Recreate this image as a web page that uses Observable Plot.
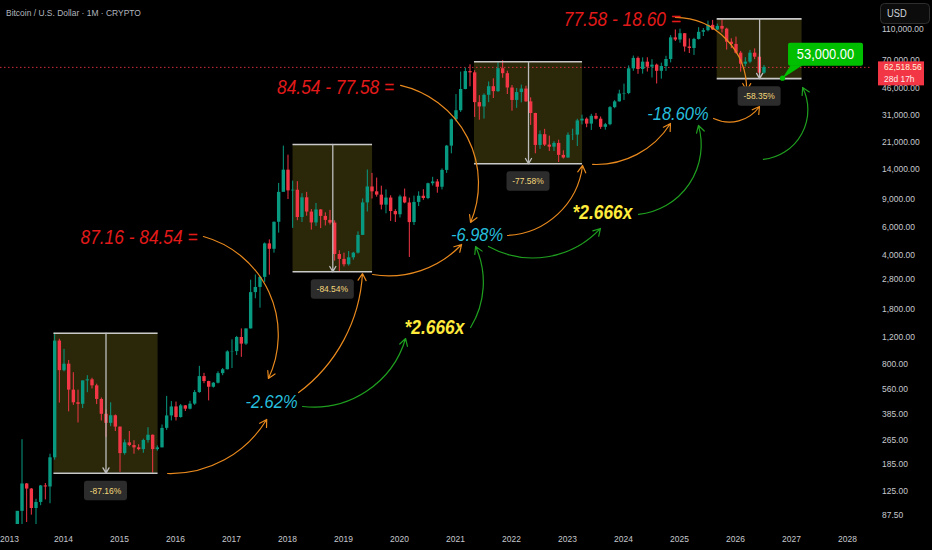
<!DOCTYPE html>
<html><head><meta charset="utf-8">
<script src="https://cdn.jsdelivr.net/npm/d3@7"></script>
<script src="https://cdn.jsdelivr.net/npm/@observablehq/plot@0.6"></script>
<style>
html,body{margin:0;padding:0;background:#000;overflow:hidden;}
#chart svg{display:block}
</style></head><body><div id="chart"></div>
<script>
// ---------------- DATA ----------------
const months = [
 "2013-03","2013-04","2013-05","2013-06","2013-07","2013-08","2013-09","2013-10","2013-11","2013-12",
 "2014-01","2014-02","2014-03","2014-04","2014-05","2014-06","2014-07","2014-08","2014-09","2014-10","2014-11","2014-12",
 "2015-01","2015-02","2015-03","2015-04","2015-05","2015-06","2015-07","2015-08","2015-09","2015-10","2015-11","2015-12",
 "2016-01","2016-02","2016-03","2016-04","2016-05","2016-06","2016-07","2016-08","2016-09","2016-10","2016-11","2016-12",
 "2017-01","2017-02","2017-03","2017-04","2017-05","2017-06","2017-07","2017-08","2017-09","2017-10","2017-11","2017-12",
 "2018-01","2018-02","2018-03","2018-04","2018-05","2018-06","2018-07","2018-08","2018-09","2018-10","2018-11","2018-12",
 "2019-01","2019-02","2019-03","2019-04","2019-05","2019-06","2019-07","2019-08","2019-09","2019-10","2019-11","2019-12",
 "2020-01","2020-02","2020-03","2020-04","2020-05","2020-06","2020-07","2020-08","2020-09","2020-10","2020-11","2020-12",
 "2021-01","2021-02","2021-03","2021-04","2021-05","2021-06","2021-07","2021-08","2021-09","2021-10","2021-11","2021-12",
 "2022-01","2022-02","2022-03","2022-04","2022-05","2022-06","2022-07","2022-08","2022-09","2022-10","2022-11","2022-12",
 "2023-01","2023-02","2023-03","2023-04","2023-05","2023-06","2023-07","2023-08","2023-09","2023-10","2023-11","2023-12",
 "2024-01","2024-02","2024-03","2024-04","2024-05","2024-06","2024-07","2024-08","2024-09","2024-10","2024-11","2024-12",
 "2025-01","2025-02","2025-03","2025-04","2025-05","2025-06","2025-07","2025-08","2025-09","2025-10","2025-11","2025-12",
 "2026-01","2026-02","2026-03","2026-04","2026-05","2026-06","2026-07"
];
const opens = [
 34,93,139,129,97,106,135,133,204,1130,
 732,805,550,457,447,630,640,586,480,386,338,378,
 320,217,254,244,236,230,263,284,230,236,314,377,
 430,368,437,416,448,531,671,624,574,609,701,742,
 964,968,1190,1080,1350,2300,2480,2875,4700,4340,6450,10000,
 13850,10220,10320,6920,9240,7490,6390,7730,7030,6630,6370,4020,
 3740,3460,3830,4100,5320,8570,10820,10080,9600,8290,9200,7550,
 7200,9350,8560,6420,8630,9450,9140,11350,11650,10780,13800,19700,
 28990,33110,45200,58800,57700,37300,35000,41500,47100,43800,61300,57000,
 46200,38500,43200,45500,37700,31800,19900,23300,20000,19400,20500,17200,
 16550,23100,23150,28500,29250,27200,30500,29250,25950,26970,34650,37700,
 42300,42600,61200,71300,60600,67500,62700,64600,59000,63300,70200,96400,
 93400,102400,84300,82500,94200,104600,107100,115800,108200,114000,109500,90400,
 87500,77000,65500,67500,77000,72600,57400
];
const highs = [
 93,266,140,130,111,136,140,215,1268,1160,
 1000,850,710,550,630,680,655,600,490,412,457,382,
 320,265,300,262,247,268,317,285,243,330,502,465,
 462,446,439,467,548,780,704,627,615,720,756,980,
 1150,1210,1350,1350,2760,2980,2920,4760,4980,6470,11400,19700,
 17250,11800,11700,9800,10000,7780,8500,7760,7410,7680,6590,4250,
 4100,4200,4150,5600,9080,13880,13200,12330,10950,10370,9510,7750,
 9580,10500,9190,9460,10080,10400,11450,12470,12070,14100,19900,29300,
 41950,58350,61800,64900,59500,41300,42400,50500,52900,67000,69000,59100,
 47900,45800,48200,47400,40000,31900,24600,25200,22800,21000,21500,18400,
 23900,25250,29200,31000,29800,31400,31800,30200,27500,35200,38400,44700,
 48900,63900,73800,72800,71900,72000,70000,65600,66500,73600,99600,108300,
 109500,102500,95000,95700,111900,110500,123200,124500,117900,126200,111000,95100,
 97500,79000,72000,80200,82000,76000,64300
];
const lows = [
 33,50,79,88,65,101,110,104,197,455,
 720,400,440,340,420,530,560,445,350,275,322,300,
 165,212,240,215,226,218,253,163,225,236,305,350,
 350,365,402,412,440,525,605,470,567,603,680,740,
 755,914,890,1060,1350,2100,1830,2670,2970,4100,5500,10400,
 9000,5900,6600,6430,7050,5750,6070,5880,6110,6200,3650,3120,
 3350,3390,3700,4050,5320,7500,9070,9320,7730,7300,6530,6430,
 6870,8460,3850,6150,8120,8900,8990,10980,9880,10370,13200,17600,
 28130,32300,45000,47000,30000,28800,29300,37300,39600,43300,53300,42000,
 32900,34300,37200,37500,26700,17600,18800,19600,18200,18200,15500,16300,
 16500,21400,19600,26900,25800,24800,28900,25200,24900,26550,34100,37600,
 38500,41900,59000,56500,56600,58400,53500,49000,52600,58900,66800,91300,
 89200,78200,76600,74500,93400,98300,105300,107300,107300,103500,80600,82300,
 76000,58300,63000,66000,70000,55500,56500
];
const closes = [
 93,139,129,97,106,135,133,204,1130,732,
 805,550,457,447,630,640,586,480,386,338,378,320,
 217,254,244,236,230,263,284,230,236,314,377,430,
 368,437,416,448,531,671,624,574,609,701,742,964,
 968,1190,1080,1350,2300,2480,2875,4700,4340,6450,10000,13850,
 10220,10320,6920,9240,7490,6390,7730,7030,6630,6370,4020,3740,
 3460,3830,4100,5320,8570,10820,10080,9600,8290,9200,7550,7200,
 9350,8560,6420,8630,9450,9140,11350,11650,10780,13800,19700,28990,
 33110,45200,58800,57700,37300,35000,41500,47100,43800,61300,57000,46200,
 38500,43200,45500,37700,31800,19900,23300,20000,19400,20500,17200,16550,
 23100,23150,28500,29250,27200,30500,29250,25950,26970,34650,37700,42300,
 42600,61200,71300,60600,67500,62700,64600,59000,63300,70200,96400,93400,
 102400,84300,82500,94200,104600,107100,115800,108200,114000,109500,90400,87500,
 77000,65500,67500,77000,72600,57400,62518.56
];
const lastPrice = 62518.56;
const lastPriceText = "62,518.56";
const countdownText = "28d 17h";

const yearTicks = [2013,2014,2015,2016,2017,2018,2019,2020,2021,2022,2023,2024,2025,2026,2027,2028];
const priceTicks = [87.5,125,185,265,385,560,800,1200,1800,2800,4000,6000,9000,14000,21000,31000,46000,70000,110000];

// price-range boxes (decimal year, price)
const boxStart  = [2013.82, 2018.09, 2021.33, 2025.664];
const boxEnd    = [2015.68, 2019.51, 2023.26, 2027.18];
const boxTop    = [1268, 20180, 67900, 127250];
const boxBottom = [162.8, 3120, 15223, 53000];
const boxLabels = ["-87.16%", "-84.54%", "-77.58%", "-58.35%"];

// text annotations (decimal year, price)
const redTexts = ["87.16 - 84.54 =", "84.54 - 77.58 =", "77.58 - 18.60 ="];
const redX = [2015.34, 2018.85, 2023.97];
const redY = [5160, 46560, 125300];
const cyanTexts = ["-2.62%", "-6.98%", "-18.60%"];
const cyanX = [2017.705, 2021.375, 2024.964];
const cyanY = [459, 5353, 31580];
const yellowTexts = ["*2.666x", "*2.666x"];
const yellowX = [2020.616, 2023.616];
const yellowY = [1369, 7390];

// target callout
const targetX = 2026.84;
const targetPrice = 53000;
const targetText = "53,000.00";

// curved arrows (decimal year, price)
const arrowX1 = [2016.49, 2015.85, 2018.19, 2019.51, 2020.01, 2021.92, 2023.44, 2024.92, 2025.60, 2018.26, 2021.26, 2021.58, 2024.26, 2026.49];
const arrowY1 = [5236, 162, 531, 2999, 47970, 5313, 15060, 130000, 29550, 432.8, 1378, 4523, 7233, 16200];
const arrowX2 = [2017.65, 2017.62, 2019.33, 2021.10, 2021.26, 2023.26, 2024.83, 2026.19, 2026.42, 2020.10, 2021.35, 2023.58, 2025.33, 2027.19];
const arrowY2 = [652.6, 357.7, 3044, 4656, 6430, 14840, 27470, 44570, 35240, 1173, 4523, 5890, 26680, 46560];
const arrowKind = ["o","o","o","o","o","o","o","o","o","g","g","g","g","g"];

// ---------------- STYLE ----------------
const FONT = "'Liberation Sans',Arial,sans-serif";
const SQUEEZE = 0.89;  // horizontal text compression seen in the screenshot
const GREEN = "#089981", RED = "#f23645";
const ORANGE = "#e8891d", AGREEN = "#1f9f1f";
const AXIS_TEXT = "#c7c9cf";
const arrowBend = [50, -30, -25, -28, 50, -40, -30, 45, -40, -40, -28, -38, -50, -55];

const candles = months.map((m, i) => ({
  t: +m.slice(0, 4) + (+m.slice(5, 7) - 1) / 12,
  o: opens[i], h: highs[i], l: lows[i], c: closes[i]
}));
const candleColor = d => d.c >= d.o ? GREEN : RED;
const boxes = boxStart.map((s, i) => ({x1: s, x2: boxEnd[i], mid: (s + boxEnd[i]) / 2, top: boxTop[i], bottom: boxBottom[i], label: boxLabels[i]}));
const arrows = arrowX1.map((x1, i) => ({x1, y1: arrowY1[i], x2: arrowX2[i], y2: arrowY2[i], color: arrowKind[i] === "o" ? ORANGE : AGREEN, bend: arrowBend[i]}));
const priceFormat = d3.format(",.2f");

function addText(g, x, y, str, attrs) {
  const t = g.append("text").attr("transform", `translate(${x},${y}) scale(${SQUEEZE},1)`).attr("dy", "0.35em").text(str);
  for (const k in attrs) t.attr(k, attrs[k]);
  return t;
}

function overlay(index, scales, values, dimensions) {
  const x = scales.x, y = scales.y;
  const right = dimensions.width - dimensions.marginRight;
  const bottom = dimensions.height - dimensions.marginBottom;
  const g = d3.create("svg:g").attr("font-family", FONT);
  // time axis labels
  yearTicks.forEach(v => {
    addText(g, Math.max(x(v), 9.5), bottom + 15, String(v), {"text-anchor": "middle", fill: AXIS_TEXT, "font-size": 9.5});
  });
  // price axis labels
  priceTicks.forEach(v => {
    addText(g, right + 12, y(v), priceFormat(v), {"text-anchor": "start", fill: AXIS_TEXT, "font-size": 9.5});
  });
  // box % labels
  boxes.forEach(b => {
    const cx = x(b.mid), by = y(b.bottom);
    g.append("rect").attr("x", cx - 21.5).attr("y", by + 8).attr("width", 43).attr("height", 19.5)
      .attr("rx", 3).attr("fill", "#2c2c2c");
    addText(g, cx, by + 17.75, b.label, {"text-anchor": "middle", fill: "#f3d77a", "font-size": 9.5});
  });
  // target callout
  const tx = x(targetX), ty = y(targetPrice);
  g.append("path").attr("d", `M${tx},${ty}L${tx + 8},${ty - 13}L${tx + 20},${ty - 13}Z`).attr("fill", "#00be00");
  g.append("rect").attr("x", tx + 5.5).attr("y", ty - 35.5).attr("width", 75).attr("height", 23).attr("rx", 2).attr("fill", "#00be00");
  addText(g, tx + 43, ty - 24, targetText, {"text-anchor": "middle", fill: "#fff", "font-size": 14.5});
  g.append("circle").attr("cx", tx).attr("cy", ty).attr("r", 2.6).attr("fill", "#00be00");
  // last price label on the axis
  const py = y(lastPrice);
  g.append("rect").attr("x", right + 8).attr("y", py - 5.5).attr("width", 46).attr("height", 24).attr("fill", RED);
  addText(g, right + 14, py, lastPriceText, {"text-anchor": "start", fill: "#fff4d6", "font-size": 9.5});
  addText(g, right + 14, py + 11.5, countdownText, {"text-anchor": "start", fill: "#ffe9e9", "font-size": 9.5});
  // currency box
  g.append("rect").attr("x", right + 10.5).attr("y", 3.5).attr("width", 49).attr("height", 20).attr("rx", 4)
    .attr("fill", "#0c0c0c").attr("stroke", "#2e2e2e");
  addText(g, right + 17, 13.5, "USD", {"text-anchor": "start", fill: "#d1d4dc", "font-size": 10.5});
  // chart title
  addText(g, 6, 13, "Bitcoin / U.S. Dollar · 1M · CRYPTO", {"text-anchor": "start", fill: "#b2b5be", "font-size": 9.5});
  return g.node();
}

const squeeze = {fontFamily: FONT};
const chart = Plot.plot({
  width: 932, height: 550,
  marginLeft: 0, marginRight: 62, marginTop: 0, marginBottom: 26,
  style: {background: "#000", color: AXIS_TEXT, fontFamily: FONT, overflow: "visible"},
  x: {type: "linear", domain: [2012.866, 2028.402], axis: null},
  y: {type: "log", domain: [76.7, 166700], axis: null},
  marks: [
    Plot.rect(boxes, {x1: "x1", x2: "x2", y1: "bottom", y2: "top", fill: "#ffeb3b", fillOpacity: 0.17}),
    Plot.ruleY([lastPrice], {stroke: RED, strokeDasharray: "1.5,2.5", strokeOpacity: 0.85}),
    Plot.ruleX(candles, {x: "t", y1: "l", y2: "h", stroke: candleColor, strokeWidth: 1, clip: true}),
    Plot.ruleX(candles, {x: "t", y1: "o", y2: "c", stroke: candleColor, strokeWidth: 3.4, clip: true}),
    Plot.ruleY(boxes, {y: "top", x1: "x1", x2: "x2", stroke: "#c9c9c9", strokeWidth: 1.6}),
    Plot.ruleY(boxes, {y: "bottom", x1: "x1", x2: "x2", stroke: "#c9c9c9", strokeWidth: 1.6}),
    Plot.arrow(boxes, {x1: "mid", x2: "mid", y1: "top", y2: "bottom", stroke: "#bdbdbd", strokeWidth: 1.3, headLength: 7}),
    ...arrows.map(a => Plot.arrow([a], {x1: "x1", y1: "y1", x2: "x2", y2: "y2", bend: a.bend, stroke: a.color, strokeWidth: 1.2, headLength: 10})),
    Plot.text(redTexts, {x: (d, i) => redX[i], y: (d, i) => redY[i], text: d => d, fill: "#e21a1a", fontSize: 19.5, fontStyle: "italic"}),
    Plot.text(cyanTexts, {x: (d, i) => cyanX[i], y: (d, i) => cyanY[i], text: d => d, fill: "#26bedc", fontSize: 18.5, fontStyle: "italic"}),
    Plot.text(yellowTexts, {x: (d, i) => yellowX[i], y: (d, i) => yellowY[i], text: d => d, fill: "#ffeb3b", fontSize: 19.5, fontStyle: "italic", fontWeight: "bold"}),
    overlay
  ]
});

// squeeze the Plot text marks horizontally around their own anchors (overlay texts already are)
chart.querySelectorAll("text").forEach(t => {
  const tr = t.getAttribute("transform") || "";
  if (tr.includes("scale(")) return;
  if (tr) {
    t.setAttribute("transform", tr + ` scale(${SQUEEZE},1)`);
  } else {
    const x = parseFloat(t.getAttribute("x")) || 0;
    const yAttr = t.getAttribute("y");
    const yNum = yAttr && !/em$/.test(yAttr) ? parseFloat(yAttr) : 0;
    if (t.hasAttribute("x")) t.removeAttribute("x");
    if (yAttr && !/em$/.test(yAttr)) t.removeAttribute("y");
    t.setAttribute("transform", `translate(${x},${yNum}) scale(${SQUEEZE},1)`);
  }
});
document.getElementById("chart").appendChild(chart);
</script>
</body></html>
